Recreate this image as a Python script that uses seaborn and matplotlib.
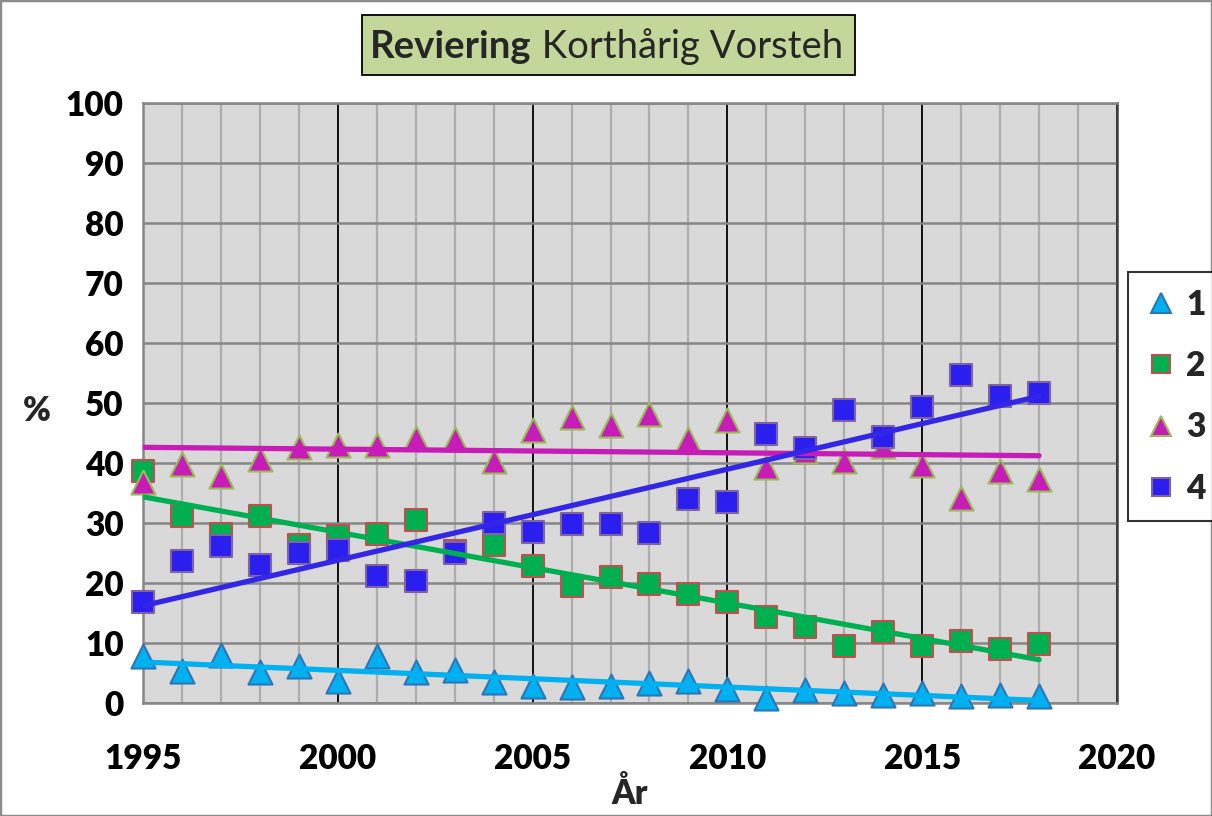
import matplotlib
matplotlib.use("Agg")
import matplotlib.pyplot as plt
import numpy as np
import pandas as pd
import seaborn as sns
from matplotlib.lines import Line2D
from matplotlib.patches import Rectangle

years = list(range(1995, 2019))
s1 = [7.8, 5.3, 8.0, 5.1, 6.1, 3.6, 7.9, 5.1, 5.5, 3.5, 2.9, 2.7, 2.8, 3.4, 3.7, 2.3, 0.8, 2.2, 1.6, 1.3, 1.7, 1.2, 1.4, 1.2]
s2 = [38.7, 31.2, 28.1, 31.2, 26.4, 27.8, 28.1, 30.5, 25.4, 26.3, 22.8, 19.5, 21.0, 19.9, 18.2, 16.8, 14.3, 12.7, 9.5, 11.9, 9.5, 10.4, 9.0, 9.8]
s3 = [36.9, 39.9, 37.8, 40.7, 42.7, 43.0, 43.0, 44.2, 44.0, 40.3, 45.5, 47.7, 46.3, 48.2, 44.0, 47.2, 39.4, 42.0, 40.4, 42.8, 39.7, 34.2, 38.6, 37.4]
s4 = [16.8, 23.7, 26.2, 23.0, 25.0, 25.5, 21.1, 20.3, 25.0, 30.0, 28.5, 29.9, 29.8, 28.4, 34.0, 33.5, 44.8, 42.5, 48.8, 44.3, 49.3, 54.6, 51.2, 51.6]
labels = ["1", "2", "3", "4"]

# marker, fill, edge, trend colour
styles = {
    "1": ("^", "#00b0f0", "#2e75b6", "#00b0f0"),
    "2": ("s", "#00b050", "#c0504d", "#00b050"),
    "3": ("^", "#c71cb8", "#9bbb59", "#c71cb8"),
    "4": ("s", "#2b1ff0", "#8064a2", "#3326e6"),
}

df = pd.concat(
    [pd.DataFrame({"year": years, "pct": v, "serie": k}) for k, v in zip(labels, [s1, s2, s3, s4])],
    ignore_index=True,
)

sns.set_style("white")
plt.rcParams["font.family"] = ["Lato", "DejaVu Sans"]
W = "heavy"

fig = plt.figure(figsize=(12.12, 8.16), dpi=100)
ax = fig.add_axes([143 / 1212, 1 - 703 / 816, (1117 - 143) / 1212, 600 / 816])
ax.set_facecolor("#d9d9d9")

for k in labels:
    m, fc, ec, lc = styles[k]
    g = df[df["serie"] == k]
    sns.scatterplot(data=g, x="year", y="pct", marker=m, s=300 if m == "^" else 240,
                    color=fc, edgecolor=ec, linewidth=1.5, ax=ax, zorder=3, legend=False,
                    clip_on=False)
for k in labels:
    m, fc, ec, lc = styles[k]
    g = df[df["serie"] == k]
    sns.regplot(data=g, x="year", y="pct", scatter=False, ci=None, ax=ax,
                line_kws={"color": lc, "linewidth": 3.8, "zorder": 4})

ax.set_xlim(1995, 2020)
ax.set_ylim(0, 100)
ax.set_xticks(range(1995, 2021, 5))
ax.set_xticks(range(1995, 2021), minor=True)
ax.set_yticks(range(0, 101, 10))
ax.grid(which="minor", axis="x", color="#adadad", linewidth=1.6, zorder=0)
ax.grid(which="major", axis="x", color="black", linewidth=1.3, zorder=0)
ax.grid(which="major", axis="y", color="#868686", linewidth=1.8, zorder=0)
ax.set_axisbelow(True)
for sp in ax.spines.values():
    sp.set_color("#868686")
    sp.set_linewidth(1.8)
ax.spines["right"].set_color("#404040")

ax.tick_params(axis="y", which="major", length=11, width=1.5, color="#868686", pad=3,
               labelsize=24, labelcolor="black")
ax.tick_params(axis="x", which="major", length=9, width=1.5, color="#868686", pad=20,
               labelsize=24, labelcolor="black")
ax.tick_params(axis="x", which="minor", length=0)
for t in ax.get_xticklabels() + ax.get_yticklabels():
    t.set_fontweight(W)

ax.set_xlabel("År", fontsize=24, fontweight=W, labelpad=1)
ax.set_ylabel("")
fig.text(37 / 1212, 1 - 411 / 816, "%", fontsize=24, fontweight=W, ha="center", va="center")

# title box with bold first word
fig.canvas.draw()
r = fig.canvas.get_renderer()
t1 = fig.text(370 / 1212, 1 - 47 / 816, "Reviering", fontsize=27.5, fontweight="bold", va="center")
w1 = t1.get_window_extent(r).width
t2 = fig.text((370 + w1) / 1212, 1 - 47 / 816, " Korthårig Vorsteh", fontsize=27.5, va="center")
fig.patches.append(Rectangle((362 / 1212, 1 - 75 / 816), 493 / 1212, 60 / 816,
                             transform=fig.transFigure, facecolor="#c4d79b",
                             edgecolor="black", linewidth=1.3, zorder=0))

handles = [Line2D([], [], linestyle="none", marker=styles[k][0], markersize=15 if styles[k][0] == "^" else 13,
                  markerfacecolor=styles[k][1], markeredgecolor=styles[k][2], markeredgewidth=1.5)
           for k in labels]
leg = fig.legend(handles, labels, loc="upper left", bbox_to_anchor=(1128 / 1212, 1 - 272 / 816),
                 frameon=True, fancybox=False, prop={"weight": W, "size": 24},
                 labelspacing=0.88, handletextpad=0.25, borderpad=0.5, handlelength=1.0,
                 borderaxespad=0)
leg.get_frame().set_edgecolor("black")
leg.get_frame().set_linewidth(1.5)

fig.patches.append(Rectangle((0, 0), 1, 1, transform=fig.transFigure, fill=False,
                             edgecolor="#8c8c8c", linewidth=2.5))

fig.savefig("out.png", dpi=100)
